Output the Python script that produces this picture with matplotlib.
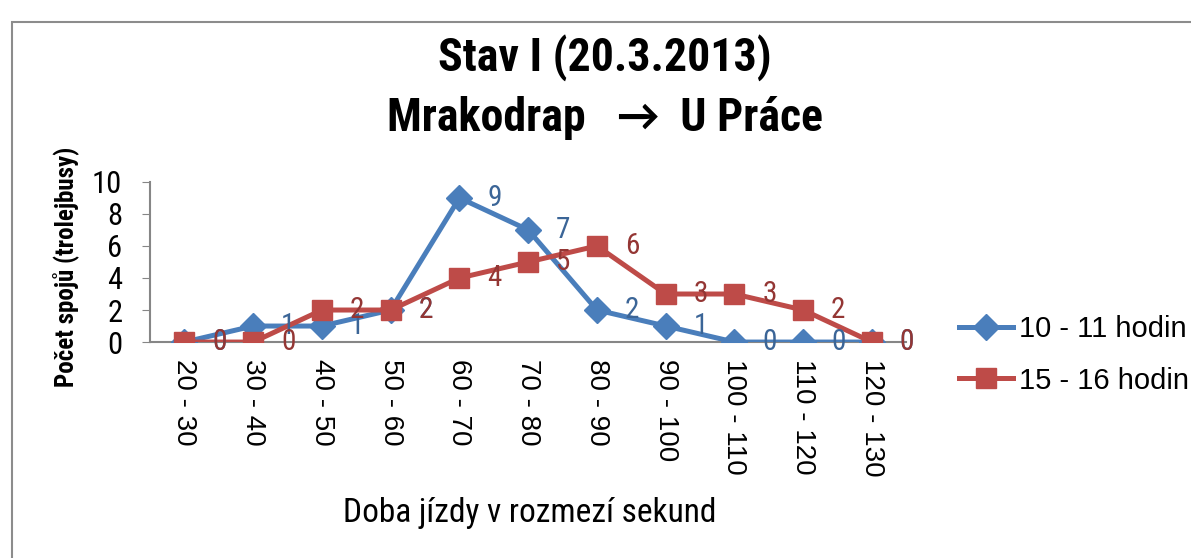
import matplotlib
matplotlib.use("Agg")
import matplotlib.pyplot as plt
import numpy as np

uzky = ['Roboto Condensed', 'Carlito', 'DejaVu Sans']
siroky = ['Liberation Sans', 'DejaVu Sans']
plt.rcParams['font.family'] = uzky

kategorie = ['20 - 30', '30 - 40', '40 - 50', '50 - 60', '60 - 70', '70 - 80',
             '80 - 90', '90 - 100', '100 - 110', '110 - 120', '120 - 130']
rano = [0, 1, 1, 2, 9, 7, 2, 1, 0, 0, 0]       # 10 - 11 hodin
odpoledne = [0, 0, 2, 2, 4, 5, 6, 3, 3, 2, 0]  # 15 - 16 hodin

modra = '#4A7EBB'
cervena = '#BE4B48'

fig = plt.figure(figsize=(11.91, 5.58), dpi=100)
ax = fig.add_axes([0.126, 0.387, 0.635, 0.287])

x = np.arange(len(kategorie))
ax.plot(x, rano, color=modra, lw=3.6, marker='D', ms=13, label='10 - 11 hodin', zorder=3)
ax.plot(x, odpoledne, color=cervena, lw=3.6, marker='s', ms=15, label='15 - 16 hodin', zorder=4)

# popisky hodnot vpravo od bodu
for i, v in enumerate(rano):
    ax.annotate(str(v), (i, v), xytext=(20, 0), textcoords='offset points',
                ha='left', va='center', fontsize=21, color='#3B6597', zorder=5)
for i, v in enumerate(odpoledne):
    ax.annotate(str(v), (i, v), xytext=(20, 0), textcoords='offset points',
                ha='left', va='center', fontsize=21, color='#943634', zorder=5)

ax.set_xlim(-0.5, len(kategorie) - 0.5)
ax.set_ylim(0, 10)
ax.set_yticks([0, 2, 4, 6, 8, 10])
ax.set_xticks(x)
ax.set_xticklabels(kategorie, rotation=270, fontsize=20, family=siroky)
ax.tick_params(axis='x', length=0, pad=12)
ax.tick_params(axis='y', labelsize=22, length=6, color='#868686', pad=14)
ax.spines['top'].set_visible(False)
ax.spines['right'].set_visible(False)
ax.spines['left'].set_color('#868686')
ax.spines['bottom'].set_color('#868686')
ax.spines['left'].set_linewidth(1.5)
ax.spines['bottom'].set_linewidth(1.5)
ax.patch.set_alpha(0)

ax.set_ylabel('Počet spojů (trolejbusy)', fontsize=18, fontweight='bold')
ax.yaxis.set_label_coords(-0.094, 0.47)
fig.text(0.445, 0.08, 'Doba jízdy v rozmezí sekund', fontsize=24, ha='center', va='center')

fig.text(0.508, 0.897, 'Stav I (20.3.2013)', fontsize=33, fontweight='bold', ha='center', va='center')
fig.text(0.508, 0.788, 'Mrakodrap   →  U Práce', fontsize=33, fontweight='bold', ha='center', va='center')

ax.legend(loc='center left', bbox_to_anchor=(1.035, -0.08), frameon=False,
          prop={'size': 21, 'family': siroky}, handlelength=1.85, labelspacing=0.8,
          handletextpad=0.2)

# ramecek grafu
ramecek = plt.Rectangle((0.01, -0.1), 1.2, 1.06, transform=fig.transFigure,
                        fill=False, edgecolor='#8C8C8C', lw=1.5)
fig.add_artist(ramecek)

fig.savefig('out.png', dpi=100)
